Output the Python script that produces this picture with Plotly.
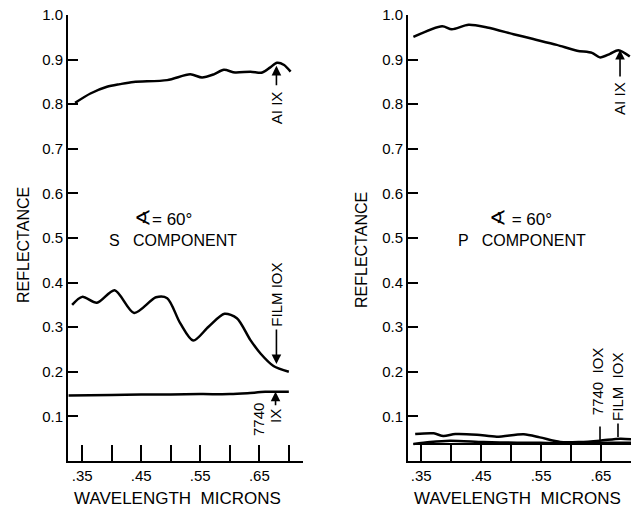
import plotly.graph_objects as go

W, H = 638, 509

# ---------------- data ----------------
# S component (left panel)
s_al_w = [0.338, 0.364, 0.392, 0.414, 0.437, 0.494, 0.533, 0.553, 0.573, 0.590, 0.609, 0.635, 0.655, 0.668, 0.680, 0.692, 0.703]
s_al_v = [0.803, 0.824, 0.839, 0.845, 0.850, 0.854, 0.867, 0.860, 0.867, 0.877, 0.871, 0.873, 0.871, 0.882, 0.893, 0.888, 0.873]

s_film_w = [0.333, 0.350, 0.375, 0.405, 0.438, 0.475, 0.494, 0.516, 0.538, 0.564, 0.591, 0.612, 0.635, 0.652, 0.674, 0.700]
s_film_v = [0.350, 0.368, 0.355, 0.383, 0.332, 0.367, 0.365, 0.309, 0.270, 0.301, 0.330, 0.320, 0.271, 0.241, 0.213, 0.200]

s_glass_w = [0.327, 0.40, 0.45, 0.50, 0.55, 0.60, 0.63, 0.66, 0.70]
s_glass_v = [0.147, 0.148, 0.149, 0.149, 0.150, 0.150, 0.152, 0.155, 0.155]

# P component (right panel)
p_al_w = [0.337, 0.385, 0.401, 0.429, 0.460, 0.504, 0.537, 0.576, 0.610, 0.635, 0.648, 0.665, 0.679, 0.698]
p_al_v = [0.951, 0.975, 0.968, 0.978, 0.972, 0.957, 0.946, 0.933, 0.920, 0.915, 0.905, 0.913, 0.921, 0.907]

p_film_w = [0.340, 0.371, 0.387, 0.407, 0.443, 0.476, 0.521, 0.548, 0.582, 0.615, 0.648, 0.682, 0.701]
p_film_v = [0.0605, 0.062, 0.056, 0.0605, 0.059, 0.0545, 0.060, 0.053, 0.0426, 0.0426, 0.0456, 0.050, 0.0486]

p_glass_w = [0.337, 0.365, 0.398, 0.454, 0.510, 0.548, 0.582, 0.626, 0.648, 0.700]
p_glass_v = [0.038, 0.0426, 0.0456, 0.0426, 0.041, 0.041, 0.0397, 0.0397, 0.041, 0.041]

p_base_w = [0.337, 0.700]
p_base_v = [0.038, 0.038]

x_tickvals = [0.35, 0.40, 0.45, 0.50, 0.55, 0.60, 0.65, 0.70]
x_ticktext = [".35", "", ".45", "", ".55", "", ".65", ""]
y_tickvals = [0.1, 0.2, 0.3, 0.4, 0.5, 0.6, 0.7, 0.8, 0.9, 1.0]
y_ticktext = ["0.1", "0.2", "0.3", "0.4", "0.5", "0.6", "0.7", "0.8", "0.9", "1.0"]

# ---------------- figure ----------------
FONT = "Liberation Sans, Arial, sans-serif"

def px_x(p):
    return p / W

def px_y(p):
    return 1 - p / H

fig = go.Figure()
line = dict(color="black", width=2.5, shape="spline", smoothing=0.8)

for w, v in [(s_al_w, s_al_v), (s_film_w, s_film_v), (s_glass_w, s_glass_v)]:
    fig.add_trace(go.Scatter(x=w, y=v, mode="lines", line=line, xaxis="x", yaxis="y", showlegend=False, hoverinfo="skip"))
for w, v in [(p_al_w, p_al_v), (p_film_w, p_film_v), (p_glass_w, p_glass_v)]:
    fig.add_trace(go.Scatter(x=w, y=v, mode="lines", line=line, xaxis="x2", yaxis="y2", showlegend=False, hoverinfo="skip"))
fig.add_trace(go.Scatter(x=p_base_w, y=p_base_v, mode="lines", line=dict(color="black", width=2), xaxis="x2", yaxis="y2", showlegend=False, hoverinfo="skip"))

xax = dict(showline=True, linecolor="black", linewidth=2, ticks="inside", ticklen=16, tickwidth=2,
           tickcolor="black", tickvals=x_tickvals, ticktext=x_ticktext, showgrid=False, zeroline=False,
           tickfont=dict(family=FONT, size=15, color="black"), automargin=False, fixedrange=True)
yax = dict(showline=True, linecolor="black", linewidth=2, ticks="inside", ticklen=10, tickwidth=2,
           tickcolor="black", tickvals=y_tickvals, ticktext=y_ticktext, range=[0, 1.0], showgrid=False,
           zeroline=False, tickfont=dict(family=FONT, size=15, color="black"), automargin=False, fixedrange=True)

fig.update_layout(
    width=W, height=H, margin=dict(l=0, r=0, t=0, b=0),
    paper_bgcolor="white", plot_bgcolor="white", showlegend=False,
    xaxis=dict(xax, domain=[px_x(68), px_x(303)], range=[0.326, 0.724], anchor="y"),
    yaxis=dict(yax, domain=[px_y(461), px_y(15)], anchor="x"),
    xaxis2=dict(xax, domain=[px_x(408), px_x(631)], range=[0.328, 0.700], anchor="y2"),
    yaxis2=dict(yax, domain=[px_y(461), px_y(15)], anchor="x2"),
)

ann = []

def label(text, x, y, xr, yr, angle=-90, size=15):
    ann.append(dict(text=text, x=x, y=y, xref=xr, yref=yr, showarrow=False, textangle=angle,
                    font=dict(family=FONT, size=size, color="black"), xanchor="center", yanchor="middle"))

def arrow(x, y, ay, xr, yr, head=2):
    ann.append(dict(text="", x=x, y=y, xref=xr, yref=yr, showarrow=True, ax=0, ay=ay,
                    arrowhead=head, arrowsize=1.2, arrowwidth=1.6, arrowcolor="black"))

ANGLE = "<span style='font-size:21px'>∢</span>"

# axis titles
label("REFLECTANCE", px_x(23), px_y(245), "paper", "paper", size=16)
label("REFLECTANCE", px_x(361), px_y(250), "paper", "paper", size=16)
label("WAVELENGTH  MICRONS", px_x(177), px_y(498), "paper", "paper", angle=0, size=17)
label("WAVELENGTH  MICRONS", px_x(517), px_y(498), "paper", "paper", angle=0, size=17)

# panel texts
label(ANGLE + "= 60°", px_x(163), px_y(217), "paper", "paper", angle=0, size=17)
label("S   COMPONENT", px_x(173), px_y(240), "paper", "paper", angle=0, size=16)
label(ANGLE + " = 60°", px_x(520), px_y(217), "paper", "paper", angle=0, size=17)
label("P   COMPONENT", px_x(522), px_y(240), "paper", "paper", angle=0, size=16)

# left curve labels
label("AI IX", 0.679, 0.792, "x", "y")
arrow(0.679, 0.886, 21, "x", "y")
label("FILM IOX", 0.679, 0.374, "x", "y")
arrow(0.679, 0.2175, -36, "x", "y")
label("7740", 0.649, 0.0935, "x", "y")
label("IX", 0.6775, 0.1, "x", "y")
arrow(0.6775, 0.1555, 15, "x", "y")

# right curve labels
label("AI IX", 0.6817, 0.812, "x2", "y2")
arrow(0.6817, 0.9215, 28, "x2", "y2")
label("7740  IOX", 0.6433, 0.179, "x2", "y2")
arrow(0.6483, 0.0448, -16, "x2", "y2", head=0)
label("FILM  IOX", 0.6783, 0.166, "x2", "y2")
arrow(0.6783, 0.0538, -15, "x2", "y2", head=0)

fig.update_layout(annotations=ann)
fig.write_html("out.html", config={"displayModeBar": False, "staticPlot": True})

# remove the default page margin so the figure sits at the window's corner
with open("out.html", "r", encoding="utf-8") as f:
    html = f.read()
html = html.replace("<head>", "<head><style>html,body{margin:0;padding:0;overflow:hidden;}</style>", 1)
with open("out.html", "w", encoding="utf-8") as f:
    f.write(html)
